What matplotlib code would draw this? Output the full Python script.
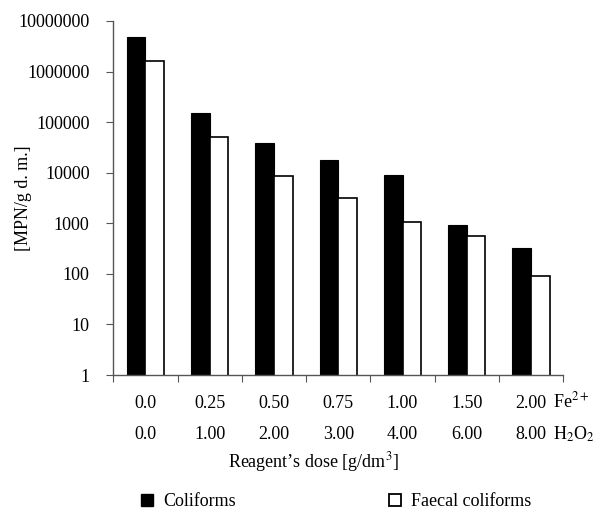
import numpy as np
import matplotlib
matplotlib.use("Agg")
import matplotlib.pyplot as plt
from matplotlib.lines import Line2D

plt.rcParams['font.family'] = 'Liberation Serif'
plt.rcParams['mathtext.fontset'] = 'stix'
plt.rcParams['font.size'] = 13

fe_dose = ['0.0', '0.25', '0.50', '0.75', '1.00', '1.50', '2.00']
h2o2_dose = ['0.0', '1.00', '2.00', '3.00', '4.00', '6.00', '8.00']
coliforms = [4.9e6, 1.5e5, 3.8e4, 1.8e4, 8.9e3, 910, 330]
faecal = [1.6e6, 5.0e4, 8.7e3, 3.2e3, 1070, 565, 91]
yticks = [1, 10, 100, 1000, 10000, 100000, 1000000, 10000000]

fig = plt.figure(figsize=(5.96, 5.11), dpi=100)
ax = fig.add_axes([0.19, 0.266, 0.755, 0.693])

x = np.arange(len(fe_dose))
w = 0.29
ax.bar(x - w / 2, coliforms, width=w, color='black', edgecolor='black', linewidth=0.8)
ax.bar(x + w / 2, faecal, width=w, color='white', edgecolor='black', linewidth=1.2)

ax.set_yscale('log')
ax.set_ylim(1, 1e7)
ax.set_yticks(yticks)
ax.set_yticklabels([str(v) for v in yticks])
ax.yaxis.set_minor_locator(matplotlib.ticker.NullLocator())
ax.set_xlim(-0.5, len(fe_dose) - 0.5)
ax.set_xticks(np.arange(len(fe_dose) + 1) - 0.5)
ax.set_xticklabels([])

for s in ['top', 'right']:
    ax.spines[s].set_visible(False)
for s in ['left', 'bottom']:
    ax.spines[s].set_color('#555555')
    ax.spines[s].set_linewidth(1)
ax.tick_params(direction='out', length=5, color='#555555', labelsize=13)
ax.tick_params(axis='y', pad=12)

tr = ax.get_xaxis_transform()
for i in range(len(fe_dose)):
    ax.text(i, -0.079, fe_dose[i], transform=tr, ha='center', va='center', fontsize=13)
    ax.text(i, -0.167, h2o2_dose[i], transform=tr, ha='center', va='center', fontsize=13)
ax.text(6.34, -0.074, 'Fe$^{2+}$', transform=tr, ha='left', va='center', fontsize=13)
ax.text(6.34, -0.167, 'H$_2$O$_2$', transform=tr, ha='left', va='center', fontsize=13)
ax.text(2.61, -0.246, 'Reagent\u2019s dose [g/dm$^3$]', transform=tr, ha='center', va='center', fontsize=13)

ax.set_ylabel('[MPN/g d. m.]', fontsize=13)
ax.yaxis.set_label_coords(-0.18, 0.5)

handles = [
    Line2D([], [], marker='s', linestyle='none', markersize=9, markerfacecolor='black', markeredgecolor='black'),
    Line2D([], [], marker='s', linestyle='none', markersize=9, markerfacecolor='white', markeredgecolor='black', markeredgewidth=1.3),
]
fig.legend(handles, ['Coliforms', 'Faecal coliforms'], ncol=2, frameon=False,
           loc='center left', bbox_to_anchor=(0.235, 0.018), borderpad=0, borderaxespad=0,
           handlelength=0.8, handletextpad=0.5, columnspacing=8.4, fontsize=13)

plt.savefig('out.png', dpi=100)
plt.close()
